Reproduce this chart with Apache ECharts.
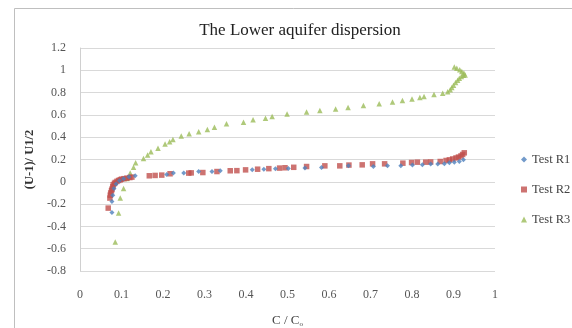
<!DOCTYPE html>
<html>
<head>
<meta charset="utf-8">
<script src="https://cdn.jsdelivr.net/npm/echarts@6/dist/echarts.min.js"></script>
<style>
  html, body { margin: 0; padding: 0; background: #fff; }
  #chart { width: 572px; height: 328px; }
</style>
</head>
<body>
<div id="chart"></div>
<script>
var seriesNames = ['Test R1', 'Test R2', 'Test R3'];

// [C/C0, (U-1)/U1/2]
var testR1 = [
  [0.077, -0.275], [0.077, -0.177], [0.079, -0.12], [0.082, -0.06], [0.087, -0.02],
  [0.095, 0.01], [0.105, 0.028], [0.118, 0.045], [0.133, 0.054], [0.209, 0.066],
  [0.225, 0.078], [0.25, 0.078], [0.286, 0.092], [0.318, 0.092], [0.338, 0.1],
  [0.415, 0.107], [0.443, 0.113], [0.471, 0.116], [0.502, 0.12], [0.542, 0.123],
  [0.582, 0.128], [0.647, 0.143], [0.707, 0.137], [0.741, 0.143], [0.773, 0.143],
  [0.801, 0.15], [0.825, 0.152], [0.845, 0.159], [0.862, 0.159], [0.878, 0.163],
  [0.89, 0.17], [0.902, 0.176], [0.914, 0.182], [0.924, 0.197]
];

var testR2 = [
  [0.068, -0.236], [0.072, -0.146], [0.073, -0.12], [0.074, -0.1], [0.076, -0.08],
  [0.077, -0.066], [0.079, -0.045], [0.08, -0.027], [0.083, -0.015], [0.085, -0.006],
  [0.089, 0.004], [0.093, 0.012], [0.097, 0.018], [0.1, 0.024], [0.106, 0.028],
  [0.113, 0.033], [0.12, 0.038], [0.125, 0.042], [0.167, 0.054], [0.181, 0.057],
  [0.197, 0.06], [0.217, 0.072], [0.262, 0.078], [0.268, 0.08], [0.296, 0.083],
  [0.33, 0.092], [0.362, 0.099], [0.378, 0.1], [0.399, 0.107], [0.428, 0.113],
  [0.455, 0.118], [0.481, 0.123], [0.494, 0.126], [0.515, 0.13], [0.546, 0.137],
  [0.59, 0.143], [0.626, 0.143], [0.648, 0.15], [0.68, 0.152], [0.705, 0.161],
  [0.734, 0.161], [0.778, 0.167], [0.799, 0.173], [0.813, 0.176], [0.833, 0.176],
  [0.845, 0.178], [0.868, 0.182], [0.882, 0.191], [0.89, 0.197], [0.898, 0.205],
  [0.906, 0.214], [0.912, 0.222], [0.918, 0.232], [0.922, 0.245], [0.926, 0.26]
];

var testR3 = [
  [0.085, -0.54], [0.093, -0.28], [0.097, -0.146], [0.105, -0.06], [0.113, 0.03],
  [0.121, 0.08], [0.129, 0.13], [0.134, 0.17], [0.153, 0.21], [0.163, 0.24],
  [0.171, 0.27], [0.188, 0.3], [0.205, 0.34], [0.216, 0.36], [0.224, 0.38],
  [0.244, 0.41], [0.263, 0.43], [0.286, 0.45], [0.307, 0.47], [0.324, 0.49],
  [0.353, 0.52], [0.394, 0.535], [0.417, 0.556], [0.447, 0.57], [0.463, 0.585],
  [0.499, 0.607], [0.546, 0.625], [0.578, 0.64], [0.616, 0.652], [0.646, 0.666],
  [0.683, 0.684], [0.721, 0.7], [0.753, 0.715], [0.777, 0.73], [0.8, 0.742],
  [0.819, 0.756], [0.829, 0.765], [0.853, 0.783], [0.874, 0.795], [0.886, 0.808],
  [0.892, 0.825], [0.896, 0.845], [0.9, 0.865], [0.905, 0.89], [0.91, 0.91],
  [0.914, 0.928], [0.919, 0.945], [0.924, 0.955], [0.928, 0.958], [0.925, 0.975],
  [0.92, 0.99], [0.915, 1.005], [0.908, 1.018], [0.902, 1.03]
];

var colors = ['#4F81BD', '#C0504D', '#9BBB59'];
var serif = 'Liberation Serif';

var myChart = echarts.init(document.getElementById('chart'));
var option = {
    animation: false,
    color: colors,
    graphic: [{
        type: 'rect',
        shape: { x: 14.5, y: 8.5, width: 600, height: 400 },
        style: { fill: 'none', stroke: '#bfbfbf', lineWidth: 1 },
        silent: true
    }],
    title: {
        text: 'The Lower aquifer dispersion',
        left: 295,
        textAlign: 'center',
        top: 17,
        textStyle: { fontFamily: serif, fontSize: 17, fontWeight: 'normal', color: '#222' }
    },
    legend: {
        orient: 'vertical',
        left: 516,
        top: 148,
        itemGap: 17,
        itemWidth: 6,
        itemHeight: 6,
        data: [
            { name: 'Test R1', icon: 'diamond' },
            { name: 'Test R2', icon: 'rect' },
            { name: 'Test R3', icon: 'triangle' }
        ],
        textStyle: { fontFamily: serif, fontSize: 12.5, color: '#444' }
    },
    grid: { left: 80, right: 77, top: 48, bottom: 57, outerBoundsMode: 'none', containLabel: false },
    xAxis: {
        type: 'value',
        min: 0,
        max: 1,
        interval: 0.1,
        name: 'C / C{sub|o}',
        nameLocation: 'middle',
        nameGap: 42,
        nameTextStyle: {
            fontFamily: serif, fontSize: 13, color: '#444',
            rich: { sub: { fontFamily: serif, fontSize: 7, color: '#444', verticalAlign: 'bottom', padding: [8, 0, 0, 0] } }
        },
        axisLine: { show: false },
        axisTick: { show: false },
        splitLine: { show: false },
        axisLabel: { margin: 18, fontFamily: serif, fontSize: 12, color: '#555' }
    },
    yAxis: {
        type: 'value',
        min: -0.8,
        max: 1.2,
        interval: 0.2,
        name: '(U-1)/ U1/2',
        nameLocation: 'middle',
        nameGap: 43,
        nameTextStyle: { fontFamily: serif, fontSize: 12.5, fontWeight: 'bold', color: '#333' },
        axisLine: { show: true, lineStyle: { color: '#d0d0d0' } },
        axisTick: { show: false },
        splitLine: { lineStyle: { color: '#d9d9d9', width: 1 } },
        axisLabel: { margin: 14, fontFamily: serif, fontSize: 12, color: '#555' }
    },
    series: [
        { name: seriesNames[0], type: 'scatter', symbol: 'diamond', symbolSize: 5, data: testR1, z: 3 },
        { name: seriesNames[1], type: 'scatter', symbol: 'rect', symbolSize: 5.5, data: testR2, z: 2 },
        { name: seriesNames[2], type: 'scatter', symbol: 'triangle', symbolSize: 5.5, data: testR3, z: 1 }
    ]
};
myChart.setOption(option);
</script>
</body>
</html>
